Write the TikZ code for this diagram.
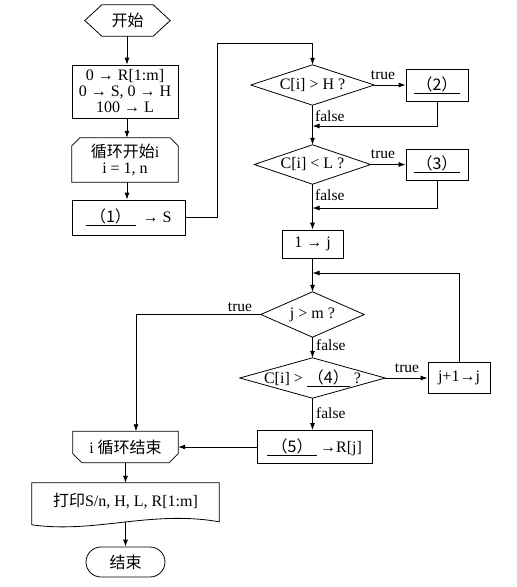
\documentclass[tikz,border=0pt]{standalone}
\usepackage{fontspec}
\setmainfont{Liberation Serif}
\newfontfamily\cjk{Noto Sans CJK SC}
\usetikzlibrary{calc,arrows.meta}
\begin{document}
\begin{tikzpicture}[x=1pt,y=-1pt,
  txt/.style={font=\fontsize{16}{16}\selectfont, inner sep=0pt},
  blk/.style={txt, draw, line width=0.8pt, rectangle},
  shp/.style={txt, rectangle},
  lbl/.style={font=\fontsize{15.5}{16}\selectfont, inner sep=0pt},
  ln/.style={line width=0.8pt},
  arr/.style={ln, -{Latex[length=7pt,width=5pt]}}]
\useasboundingbox (0,0) rectangle (517,587);

% nodes
\node[shp, minimum width=85, minimum height=31] (start) at (127.5,20.5) {\cjk 开始};
\node[blk, minimum width=106, minimum height=53, align=center] (init) at (125,91.5) {0 → R[1:m]\\0 → S, 0 → H\\100 → L};
\node[shp, minimum width=106, minimum height=44, align=center] (loop) at (125,160) {{\cjk 循环开始}i\\i = 1, n};
\node[blk, minimum width=113, minimum height=35] (s1) at (128.5,217.5) {\underline{\makebox[50pt]{\cjk （1）}}\hspace{7pt}→ S};

\node[shp, minimum width=123, minimum height=40] (d1) at (312.5,85) {C[i] > H ?};
\node[blk, minimum width=62, minimum height=32] (b2) at (437,85) {\underline{\makebox[46pt]{\cjk （2）}}};
\node[shp, minimum width=116, minimum height=39] (d2) at (312.5,164.5) {C[i] < L ?};
\node[blk, minimum width=62, minimum height=31] (b3) at (437,164.5) {\underline{\makebox[46pt]{\cjk （3）}}};
\node[blk, minimum width=61, minimum height=28] (j1) at (312.5,244) {1 → j};

\node[shp, minimum width=103, minimum height=45] (d3) at (312.5,314.5) {j > m ?};
\node[shp, minimum width=145, minimum height=40] (d4) at (312.5,378) {C[i] > \underline{\makebox[43pt]{\cjk （4）}}\hspace{4pt}?};
\node[blk, minimum width=62, minimum height=31] (jp) at (459,378) {j+1→j};
\node[blk, minimum width=115, minimum height=33] (b5) at (314.5,447) {\underline{\makebox[50pt]{\cjk （5）}}\hspace{3pt}→R[j]};

\node[shp, minimum width=105, minimum height=31] (ibox) at (125.5,447) {i {\cjk 循环结束}};
\node[shp, minimum width=187, minimum height=36] (print) at (125.5,501) {{\cjk 打印}S/n, H, L, R[1:m]};
\node[blk, rounded corners=15pt, minimum width=79, minimum height=30] (end) at (125.5,562) {\cjk 结束};

% custom outlines
\draw[ln] (start.west) -- ($(start.north west)+(17,0)$) -- ($(start.north east)+(-17,0)$)
  -- (start.east) -- ($(start.south east)+(-17,0)$) -- ($(start.south west)+(17,0)$) -- cycle;
\draw[ln] (loop.south west) -- ($(loop.north west)+(0,8)$) -- ($(loop.north west)+(8,0)$)
  -- ($(loop.north east)+(-8,0)$) -- ($(loop.north east)+(0,8)$) -- (loop.south east) -- cycle;
\foreach \d in {d1,d2,d3,d4}
  \draw[ln] (\d.west) -- (\d.north) -- (\d.east) -- (\d.south) -- cycle;
\draw[ln] (ibox.north west) -- (ibox.north east) -- ($(ibox.south east)+(0,-9)$)
  -- ($(ibox.south east)+(-9,0)$) -- ($(ibox.south west)+(9,0)$) -- ($(ibox.south west)+(0,-9)$) -- cycle;
\draw[ln] ($(print.north west)+(0,42)$) -- (print.north west) -- (print.north east) -- ($(print.north east)+(0,39)$)
  .. controls ($(print.north east)+(-68,27)$) and ($(print.north west)+(63,51)$) .. ($(print.north west)+(0,42)$);

% helper coordinates
\coordinate (k1) at (217,43);
\coordinate (m1) at (312.5,126);
\coordinate (m2) at (312.5,208);
\coordinate (m3) at (312.5,273);
\coordinate (k3) at ($(ibox.north)+(10.5,0)$);
\coordinate (wv) at (125.5,522);

% connectors
\draw[arr] (start.south -| 127,0) -- (init.north -| 127,0);
\draw[arr] (init.south -| 127,0) -- (loop.north -| 127,0);
\draw[arr] (loop.south -| 127,0) -- (s1.north -| 127,0);
\draw[arr] (s1.east) -| (k1) -| (d1.north);

\draw[arr] (d1.east) -- (b2.west);
\node[lbl, anchor=south] (t1) at (383,80) {true};
\draw[arr] (b2.south) |- (m1);
\node[lbl, anchor=west] (f1) at (315,116) {false};
\draw[arr] (d1.south) -- (d2.north);

\draw[arr] (d2.east) -- (b3.west);
\node[lbl, anchor=south] (t2) at (383,159) {true};
\draw[arr] (b3.south) |- (m2);
\node[lbl, anchor=west] (f2) at (315,195) {false};
\draw[arr] (d2.south) -- (j1.north);

\draw[arr] (j1.south) -- (d3.north);
\draw[arr] (jp.north) |- (m3);
\draw[arr] (d3.west) -| (k3);
\node[lbl, anchor=south] (t3) at (240,312) {true};
\draw[arr] (d3.south) -- (d4.north);
\node[lbl, anchor=west] (f3) at (316,345) {false};
\draw[arr] (d4.east) -- (jp.west);
\node[lbl, anchor=south] (t4) at (407,373) {true};
\draw[arr] (d4.south) -- (d4.south |- b5.north);
\node[lbl, anchor=west] (f4) at (316,413) {false};
\draw[arr] (b5.west) -- (ibox.east);

\draw[arr] (ibox.south) -- (print.north);
\draw[arr] (wv) -- (end.north);
\end{tikzpicture}
\end{document}
